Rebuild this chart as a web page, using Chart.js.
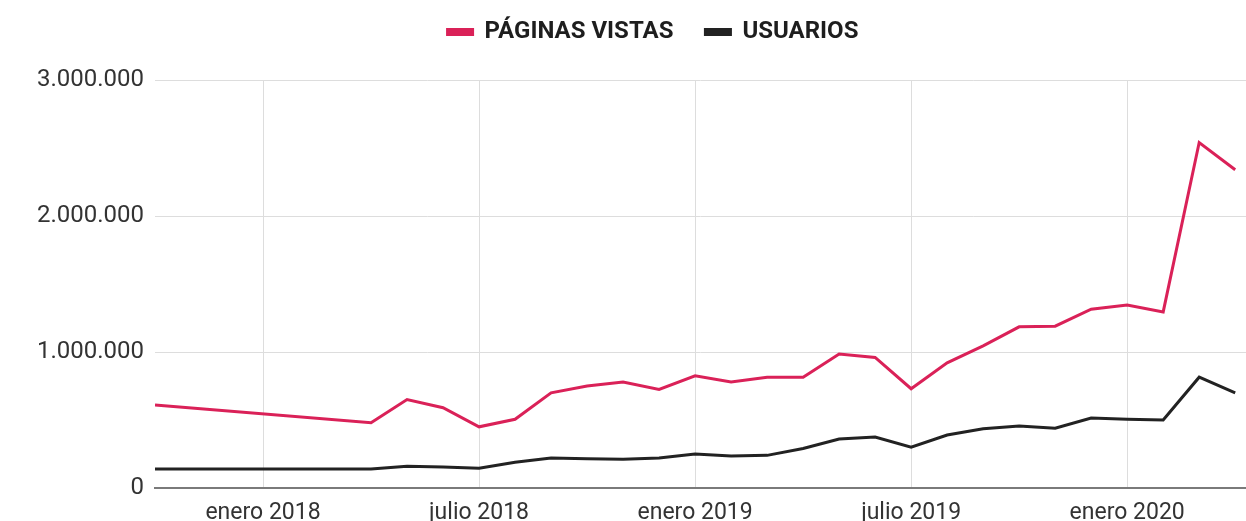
<!DOCTYPE html>
<html>
<head>
<meta charset="utf-8">
<script src="https://cdn.jsdelivr.net/npm/chart.js@4"></script>
<style>
  html, body { margin: 0; padding: 0; background: #fff; overflow: hidden; }
</style>
</head>
<body>
<canvas id="trafficChart" width="1246" height="521"></canvas>
<script>
// meses con dato (faltan nov 2017 - mar 2018)
const meses = ['2017-10', '2018-04', '2018-05', '2018-06', '2018-07', '2018-08', '2018-09', '2018-10', '2018-11', '2018-12',
  '2019-01', '2019-02', '2019-03', '2019-04', '2019-05', '2019-06', '2019-07', '2019-08', '2019-09', '2019-10', '2019-11', '2019-12',
  '2020-01', '2020-02', '2020-03', '2020-04'];
const paginasVistas = [610000, 480000, 650000, 590000, 450000, 505000, 700000, 750000, 780000, 725000,
  825000, 780000, 815000, 815000, 985000, 960000, 730000, 920000, 1045000, 1185000, 1190000, 1315000,
  1345000, 1295000, 2540000, 2340000];
const usuarios = [140000, 140000, 160000, 155000, 145000, 190000, 220000, 215000, 212000, 220000,
  250000, 235000, 240000, 290000, 360000, 375000, 300000, 390000, 435000, 455000, 440000, 515000,
  505000, 500000, 815000, 700000];
const tickMeses = ['2018-01', '2018-07', '2019-01', '2019-07', '2020-01'];
const tickLabels = ['enero 2018', 'julio 2018', 'enero 2019', 'julio 2019', 'enero 2020'];
const yTicks = [0, 1000000, 2000000, 3000000];

// mes -> indice (0 = enero 2018)
function mesIdx(m) {
  const [y, mo] = m.split('-').map(Number);
  return (y - 2018) * 12 + (mo - 1);
}
const toPoints = vals => vals.map((v, i) => ({ x: mesIdx(meses[i]), y: v }));
const fmt = v => String(v).replace(/\B(?=(\d{3})+(?!\d))/g, '.');

const pink = '#da2158';
const dark = '#222222';

// alto fijo de la leyenda (area empieza en y=80) y centrada un poco a la derecha
const legendTweak = {
  id: 'legendTweak',
  beforeInit(chart) {
    const fit = chart.legend.fit;
    chart.legend.fit = function () {
      fit.call(this);
      this.height = 92;
    };
  },
  afterLayout(chart) {
    chart.legend.left = 60;
  }
};

new Chart(document.getElementById('trafficChart'), {
  type: 'line',
  data: {
    datasets: [{
      label: 'PÁGINAS VISTAS',
      data: toPoints(paginasVistas),
      borderColor: pink,
      backgroundColor: pink,
      borderWidth: 3,
      pointRadius: 0,
      tension: 0
    }, {
      label: 'USUARIOS',
      data: toPoints(usuarios),
      borderColor: dark,
      backgroundColor: dark,
      borderWidth: 3,
      pointRadius: 0,
      tension: 0
    }]
  },
  options: {
    responsive: false,
    animation: false,
    layout: { padding: { top: -12, right: 0, left: 0, bottom: 0 } },
    plugins: {
      legend: {
        position: 'top',
        labels: {
          boxWidth: 25,
          boxHeight: 5,
          padding: 32,
          color: '#1e1e1e',
          font: { family: 'Roboto', size: 24, weight: 'bold' }
        }
      },
      tooltip: { enabled: false }
    },
    scales: {
      x: {
        type: 'linear',
        min: mesIdx(meses[0]),
        max: mesIdx(meses[meses.length - 1]) + 0.3,
        afterBuildTicks: s => { s.ticks = tickMeses.map(m => ({ value: mesIdx(m) })); },
        afterFit: s => { s.height = 33; },
        ticks: {
          padding: 11,
          maxRotation: 0,
          autoSkip: false,
          color: '#333',
          font: { family: 'Roboto', size: 23 },
          callback: v => tickLabels[tickMeses.map(mesIdx).indexOf(v)]
        },
        grid: { color: '#dddddd', lineWidth: 1, drawTicks: false },
        border: { display: true, color: '#7a7a7a', width: 2 }
      },
      y: {
        min: 0,
        max: 3000000,
        afterBuildTicks: s => { s.ticks = yTicks.map(v => ({ value: v })); },
        afterFit: s => { s.width = 155; },
        ticks: {
          padding: 11,
          color: '#333',
          font: { family: 'Roboto', size: 24 },
          callback: v => fmt(v)
        },
        grid: {
          color: c => c.tick && c.tick.value === 0 ? 'rgba(0,0,0,0)' : '#dddddd',
          lineWidth: 1,
          drawTicks: false
        },
        border: { display: false }
      }
    }
  },
  plugins: [legendTweak]
});
</script>
</body>
</html>
